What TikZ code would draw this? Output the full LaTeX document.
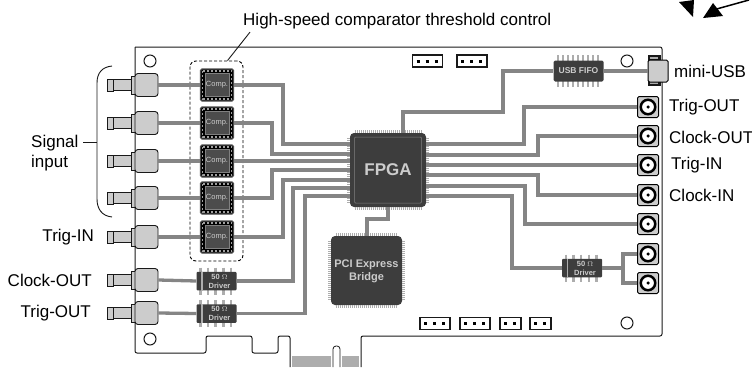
\documentclass[tikz,border=0pt]{standalone}
\usepackage{fontspec}
\setmainfont{Liberation Sans}
\usepackage{tikz}
\usetikzlibrary{arrows}
\definecolor{wiregray}{gray}{0.52}
\definecolor{chipgray}{gray}{0.24}
\definecolor{coregray}{gray}{0.3}
\definecolor{pingray}{gray}{0.68}
\definecolor{smagray}{gray}{0.8}
\definecolor{linkblack}{gray}{0.1}
\newcommand{\pinrows}[2]{
	\draw[pinrow] ([xshift=5pt,yshift=#2]#1.north west) -- ([xshift=-5pt,yshift=#2]#1.north east);
	\draw[pinrow] ([xshift=5pt,yshift=-#2]#1.south west) -- ([xshift=-5pt,yshift=-#2]#1.south east);
	\draw[pinrow] ([xshift=-#2,yshift=-5pt]#1.north west) -- ([xshift=-#2,yshift=5pt]#1.south west);
	\draw[pinrow] ([xshift=#2,yshift=-5pt]#1.north east) -- ([xshift=#2,yshift=5pt]#1.south east);
}
\newcommand{\driverchip}[3]{
	\foreach \px in {-16,-8.5,-1,7,14.5}
		\draw[pingray,line width=2.5pt] (#2+\px,#3-13.5) -- (#2+\px,#3+13.5);
	\node[driverbox] (#1) at (#2,#3) {};
	\fill[pingray] (#2-15.5,#3-9.5) rectangle (#2-14,#3+9.5);
	\node[chiptext,font=\bfseries\fontsize{7.5}{9}\selectfont,align=center] (#1txt) at (#2+3,#3) {50 $\Omega$\\Driver};
}
\begin{document}
\begin{tikzpicture}[x=1pt,y=-1pt,
		wire/.style={draw=wiregray,line width=3.3pt},
		thinlink/.style={draw=linkblack,line width=1pt},
		lbl/.style={font=\fontsize{17}{20}\selectfont,inner sep=0pt,text=black},
		pinrow/.style={draw=pingray,line width=3.5pt,dash pattern=on 1pt off 1pt},
		smabox/.style={draw=linkblack,fill=smagray,line width=.9pt,rounded corners=3pt,minimum width=23pt,minimum height=23pt,inner sep=0pt},
		smapart/.style={draw=linkblack,fill=smagray,line width=.9pt,inner sep=0pt},
		portbox/.style={draw=black,fill=smagray,line width=1pt,rounded corners=1.5pt,minimum size=21pt,inner sep=0pt},
		portring/.style={circle,draw=black,fill=white,line width=2.5pt,minimum size=14.5pt,inner sep=0pt},
		portdot/.style={circle,fill=black,minimum size=3.5pt,inner sep=0pt},
		hole/.style={circle,draw=linkblack,line width=1pt,minimum size=12pt,inner sep=0pt},
		chiptext/.style={text=gray!40,inner sep=0pt},
		bigchip/.style={fill=chipgray,rounded corners=4pt,inner sep=0pt},
		driverbox/.style={fill=chipgray,rounded corners=1pt,minimum width=40pt,minimum height=18.5pt,inner sep=0pt},
		compbox/.style={fill=black,draw=gray!60!black,line width=1.3pt,rounded corners=1.5pt,minimum width=33pt,minimum height=32pt,inner sep=0pt},
		compcore/.style={fill=coregray,draw=gray,line width=.5pt,minimum width=24pt,minimum height=23pt,inner sep=0pt,font=\fontsize{7.5}{9}\selectfont},
		header/.style={draw=linkblack,fill=white,line width=1.6pt,minimum height=12pt,inner sep=0pt}]
	\useasboundingbox (0,0) rectangle (752,367);

	\draw[thinlink,rounded corners=2pt] (135,47) -- (662,47) -- (662,336) -- (361,336) -- (361,367);
	\draw[thinlink,rounded corners=2pt] (290,367) -- (290,336) -- (278,336) -- (278,353) -- (252,353) -- (252,336) -- (206,336) -- (206,353) -- (135,353) -- (135,47);
	\fill[pingray] (292,356) rectangle (331,367);
	\fill[pingray] (342,356) rectangle (359,367);
	\draw[thinlink,line width=.8pt,rounded corners=3pt] (333,367) -- (333,346) -- (340,346) -- (340,367);

	\node[hole] (hole1) at (150,61) {};
	\node[hole] (hole2) at (627,61) {};
	\node[hole] (hole3) at (150,339) {};
	\node[hole] (hole4) at (627,323) {};

	\foreach \n/\xx/\yy/\ww in {1/427.5/61/30,2/472/61/30,3/435/323.5/30,4/475/323.5/30,5/510.5/323.5/21,6/540.5/323.5/21} {
		\node[header,minimum width=\ww pt] (hdr\n) at (\xx,\yy) {};
		\draw[black,line width=3pt,dash pattern=on 3pt off 6pt] ([xshift=5pt]hdr\n.west) -- ([xshift=-3pt]hdr\n.east);
	}

	\foreach \n/\yy in {1/85,2/123,3/161,4/198,5/237,6/280,7/313} {
		\node[smapart,minimum width=6pt,minimum height=12pt] (tip\n) at (110,\yy) {};
		\node[smapart,minimum width=18pt,minimum height=11pt] (barrel\n) at (122,\yy) {};
		\node[smapart,minimum width=4pt,minimum height=18pt] (flange\n) at (133,\yy) {};
		\node[smabox] (sma\n) at (146.5,\yy) {};
	}

	\node[draw=black,dash pattern=on 3pt off 2pt,line width=.9pt,rounded corners=6pt,minimum width=53pt,minimum height=200pt] (compgroup) at (216.5,161) {};

	\foreach \n/\yy in {1/85,2/123,3/161,4/198,5/237} {
		\node[compbox] (comp\n) at (217,\yy) {};
		\draw[gray!75,line width=1.2pt,dash pattern=on 2pt off 2pt] (202.5,\yy-14) rectangle (231.5,\yy+14);
		\node[compcore,chiptext] (core\n) at (217,\yy) {Comp.};
		\draw[wire] (sma\n.east) -- (comp\n.west);
	}
	\driverchip{drv1}{216.5}{281}
	\driverchip{drv2}{216.5}{313.5}
	\draw[wire] (sma6.east) -- (drv1.west);
	\draw[wire] (sma7.east) -- (drv2.west);

	\node[bigchip,minimum width=76pt,minimum height=74pt] (fpga) at (388,170) {};
	\pinrows{fpga}{1.5pt}
	\node[draw=gray,line width=.5pt,rounded corners=1pt,minimum width=67pt,minimum height=66pt,inner sep=0pt,chiptext,font=\bfseries\fontsize{17}{20}\selectfont] (fpgacore) at (388,170) {FPGA};

	\node[bigchip,minimum width=71pt,minimum height=69pt] (pci) at (366.5,270.5) {};
	\pinrows{pci}{1.5pt}
	\node[chiptext,font=\bfseries\fontsize{11}{13}\selectfont,align=center] (pcitxt) at (366.5,271) {PCI Express\\Bridge};

	\foreach \px in {558,563,568,573,578,583,588,593,598}
		\draw[pingray,line width=2.5pt] (\px,55) -- (\px,87);
	\node[fill=chipgray,rounded corners=1.5pt,minimum width=50pt,minimum height=21pt,inner sep=0pt,chiptext,font=\bfseries\fontsize{8.5}{10}\selectfont] (fifo) at (578.5,71) {USB FIFO};
	\driverchip{drv3}{582}{268}

	\foreach \n/\cx/\fy in {1/283/144,2/272/154,3/283/161,4/272/170,5/283/180}
		\draw[wire] (comp\n.east) -| (\cx,\fy) -- (fpga.west |- 0,\fy);
	\draw[wire] (drv1.east) -| (293,188) -- (fpga.west |- 0,188);
	\draw[wire] (drv2.east) -| (305,196) -- (fpga.west |- 0,196);

	\foreach \n/\yy in {1/107,2/136,3/165,4/195,5/224,6/254,7/283} {
		\node[portbox] (port\n) at (648,\yy) {};
		\node[portring] (ring\n) at (648,\yy) {};
		\node[portdot] (dot\n) at (648,\yy) {};
	}
	\foreach \n/\fy/\cx in {1/144/524,2/155/538,4/175/538,5/186/525}
		\draw[wire] (fpga.east |- 0,\fy) -| (\cx,0 |- port\n.west) -- (port\n.west);
	\draw[wire] (fpga.east |- 0,165) -- (port3.west);
	\draw[wire] (fpga.east |- 0,196) -| (512,268) -- (drv3.west);
	\draw[wire] (drv3.east) -- (623,268) |- (port6.west);
	\draw[wire] (623,268) |- (port7.west);
	\draw[wire] (403,133) |- (503,112) |- (fifo.west);
	\draw[wire] (388,207) |- (367,219) -- (pci.north -| 367,0);

	\node[fill=linkblack,minimum width=13pt,minimum height=31pt,inner sep=0pt] (usbshell) at (654,70.5) {};
	\draw[pingray,line width=1.5pt] (650,58) -- (658,58) (650,83) -- (658,83);
	\node[draw=black,fill=smagray,line width=1pt,rounded corners=1.5pt,minimum width=20pt,minimum height=22pt,inner sep=0pt] (usb) at (658,71) {};
	\draw[wire] (fifo.east) -- (usb.west);

	\node[lbl,anchor=west] (hslabel) at (243,21) {High-speed comparator threshold control};
	\draw[thinlink,line width=.9pt] ([xshift=7pt,yshift=-3pt]hslabel.south west) -- ([xshift=11pt]compgroup.north);
	\node[lbl,anchor=west,align=left] (siglabel) at (31,153) {Signal\\input};
	\coordinate (brace) at (97,142);
	\draw[thinlink,line width=.9pt] (83,142) -- (brace);
	\draw[thinlink,line width=.9pt] (112,66) .. controls (102,67) and (97,73) .. (97,83) -- (97,199) .. controls (97,209) and (102,216) .. (112,217);
	\node[lbl,anchor=east] (ltrigin) at (94,237) {Trig-IN};
	\node[lbl,anchor=east] (lclkout) at (92,280) {Clock-OUT};
	\node[lbl,anchor=east] (ltrigout) at (91,313) {Trig-OUT};
	\node[lbl,anchor=west] (rusb) at (674,71) {mini-USB};
	\node[lbl,anchor=west] (rtrigout) at (669,107) {Trig-OUT};
	\node[lbl,anchor=west] (rclkout) at (669,137) {Clock-OUT};
	\node[lbl,anchor=west] (rtrigin) at (671,165) {Trig-IN};
	\node[lbl,anchor=west] (rclkin) at (669,195) {Clock-IN};

	\coordinate (arrowa) at (693,17);
	\coordinate (arrowb) at (703,18);
	\fill[black] (679,2) -- (694,0) -- (arrowa) -- cycle;
	\fill[black] (arrowb) -- (713,3) -- (723,16) -- cycle;
	\draw[black,line width=1.5pt] (713,10) -- (749,0);
\end{tikzpicture}
\end{document}
